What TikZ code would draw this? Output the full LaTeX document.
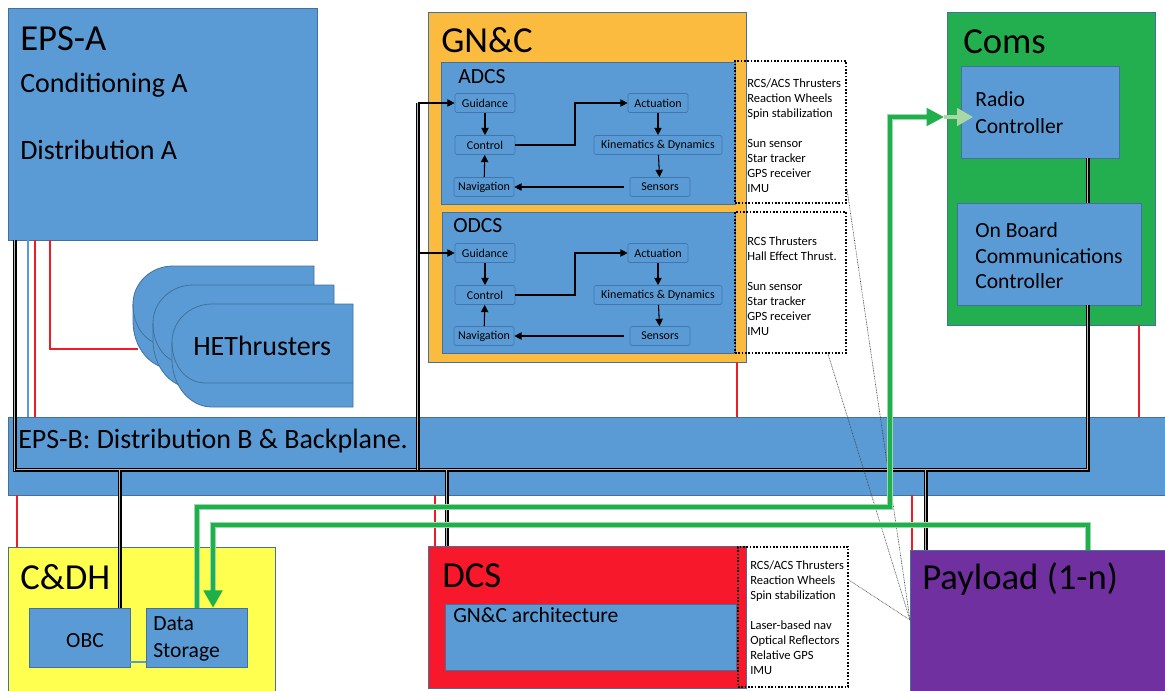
\documentclass[tikz,border=0pt]{standalone}
\usepackage{fontspec}
\setmainfont{Carlito}
\usetikzlibrary{arrows.meta,fit,calc}

\definecolor{boxblue}{HTML}{5B9BD5}
\definecolor{boxedge}{HTML}{41719C}
\definecolor{inedge}{HTML}{3F78B0}
\definecolor{gncorange}{HTML}{FBBB3E}
\definecolor{comsgreen}{HTML}{23AE4F}
\definecolor{cdhyellow}{HTML}{FFFF4F}
\definecolor{dcsred}{HTML}{F7192B}
\definecolor{payloadpurple}{HTML}{7030A0}
\definecolor{pwrred}{HTML}{EE1C24}
\definecolor{datadark}{HTML}{1FAF4B}
\definecolor{datalight}{HTML}{9CD9AC}
\definecolor{arrowlight}{HTML}{A9D8A4}

\tikzset{
  panel/.style={draw=boxedge, line width=0.6pt, inner sep=0pt, fill=#1},
  sbox/.style={draw=inedge, fill=boxblue, rounded corners=1.5pt, line width=0.5pt,
    inner sep=0pt, minimum height=14.25pt, minimum width=45pt,
    font=\fontsize{9}{11}\selectfont},
  flowarr/.style={draw=black, line width=0.8pt, -{Triangle[length=5.5pt,width=5.5pt]}},
  bus/.style={draw=black, line width=0.45pt,
    preaction={draw=black, line width=3.3pt},
    preaction={draw=white!72!black, line width=2.1pt}},
  pwr/.style={draw=pwrred, line width=1.1pt},
  sig/.style={draw=boxblue, line width=1pt},
  datalink/.style={draw=datadark, line width=2.6pt,
    preaction={draw=datalight, line width=4.2pt, -, shorten >=10pt}},
  listbox/.style={draw=black, line width=1.2pt, dash pattern=on 1.2pt off 1.3pt, inner sep=0pt},
  pointer/.style={draw=black!75, line width=0.45pt, dash pattern=on 0.6pt off 0.6pt},
  ttl/.style={anchor=base west, inner sep=0pt, font=\fontsize{27.5}{30}\selectfont},
  subttl/.style={anchor=base west, inner sep=0pt, font=\fontsize{21}{24}\selectfont},
  mtxt/.style={anchor=base west, inner sep=0pt, font=\fontsize{16.2}{19.5}\selectfont},
  ltxt/.style={anchor=north west, inner sep=0pt, align=left, font=\fontsize{9.4}{11.15}\selectfont},
}

% one of the stacked thruster outlines, top-left corner at (#1,#2)
\newcommand{\hetshape}[2]{%
  \filldraw[fill=boxblue, draw=boxedge, line width=0.6pt]
    (#1+181,#2) -- (#1+40,#2) .. controls (#1+18,#2) and (#1,#2+17) .. (#1,#2+38)
    -- (#1,#2+55) .. controls (#1,#2+82) and (#1+18,#2+103) .. (#1+40,#2+103)
    -- (#1+181,#2+103) -- cycle;
  \draw[draw=boxedge, line width=0.6pt]
    (#1,#2+38) .. controls (#1,#2+62) and (#1+14,#2+79) .. (#1+34,#2+79) -- (#1+181,#2+79);
}

\begin{document}
\begin{tikzpicture}[x=0.75pt,y=-0.75pt]
\useasboundingbox (0,0) rectangle (1165,690);
\fill[white] (0,0) rectangle (1165,690);

% ---------------- subsystem panels ----------------
\node[panel=boxblue, fit={(8,8)(317,240)}] (epsa) {};
\node[panel=gncorange, fit={(428,12)(746,362)}] (gnc) {};
\node[panel=boxblue, fit={(441,62)(735,204)}] (adcs) {};
\node[panel=boxblue, fit={(442,212)(735,353)}] (odcs) {};
\node[panel=comsgreen, fit={(947,12)(1155,325)}] (coms) {};
\node[panel=boxblue, fit={(961,66)(1119,158)}] (radio) {};
\node[panel=boxblue, fit={(957,203)(1141,305)}] (obcc) {};
\node[panel=boxblue, fit={(8,417)(1175,495)}] (epsb) {};
\node[panel=cdhyellow, fit={(8,547)(275,700)}] (cdh) {};
\node[panel=boxblue, fit={(29,608)(130,667)}] (obc) {};
\node[panel=boxblue, fit={(146,608)(247,667)}] (dstor) {};
\node[panel=dcsred, fit={(428,546)(746,688)}] (dcs) {};
\node[panel=boxblue, fit={(445,604)(736,670)}] (gnca) {};
\node[panel=payloadpurple, fit={(910,550)(1175,700)}] (payload) {};

% ---------------- power lines ----------------
\coordinate (pA) at (50,349);
\coordinate (hetin) at (138,349);
\draw[pwr] (epsa.south -| pA) -- (pA) -- (hetin);
\coordinate (p1) at (35,0);   \draw[pwr] (epsa.south -| p1) -- (epsb.north -| p1);
\coordinate (p2) at (17,0);   \draw[pwr] (epsb.south -| p2) -- (cdh.north -| p2);
\coordinate (p3) at (737,0);  \draw[pwr] (gnc.south -| p3) -- (epsb.north -| p3);
\coordinate (p4) at (435,0);  \draw[pwr] (epsb.south -| p4) -- (dcs.north -| p4);
\coordinate (p5) at (912,0);  \draw[pwr] (epsb.south -| p5) -- (payload.north -| p5);
\coordinate (p6) at (1139,0); \draw[pwr] (coms.south -| p6) -- (epsb.north -| p6);
\coordinate (b1) at (28,0);   \draw[sig] (epsa.south -| b1) -- (epsb.north -| b1);
\coordinate (b2) at (0,662);  \draw[sig] (obc.east |- b2) -- (dstor.west |- b2);

% ---------------- Hall effect thrusters ----------------
\hetshape{133}{266}
\hetshape{153}{285}
\hetshape{172}{304}
\node[subttl] (tHET) at (193,355) {HEThrusters};

% ---------------- ADCS loop ----------------
\node[sbox] (gd1) at (485,103) {Guidance};
\node[sbox] (ct1) at (485,145) {Control};
\node[sbox] (nv1) at (484,187) {Navigation};
\node[sbox] (ac1) at (658,103) {Actuation};
\node[sbox, minimum width=96pt] (kd1) at (658,145) {Kinematics \& Dynamics};
\node[sbox] (sn1) at (660,187) {Sensors};
\draw[flowarr] (gd1) -- (ct1);
\draw[flowarr] (nv1) -- (ct1);
\draw[flowarr] (ct1.east) -- (575,145) |- (ac1.west);
\draw[flowarr] (ac1) -- (kd1);
\draw[flowarr] (kd1) -- (sn1);
\draw[flowarr] ([xshift=-4pt]sn1.west) -- (nv1.east);

% ---------------- ODCS loop ----------------
\node[sbox] (gd2) at (485,253) {Guidance};
\node[sbox] (ct2) at (485,295) {Control};
\node[sbox] (nv2) at (484,336) {Navigation};
\node[sbox] (ac2) at (658,253) {Actuation};
\node[sbox, minimum width=96pt] (kd2) at (658,295) {Kinematics \& Dynamics};
\node[sbox] (sn2) at (660,336) {Sensors};
\draw[flowarr] (gd2) -- (ct2);
\draw[flowarr] (nv2) -- (ct2);
\draw[flowarr] (ct2.east) -- (575,295) |- (ac2.west);
\draw[flowarr] (ac2) -- (kd2);
\draw[flowarr] (kd2) -- (sn2);
\draw[flowarr] ([xshift=-4pt]sn2.west) -- (nv2.east);

% ---------------- backplane bus ----------------
\coordinate (busL) at (15,470);
\coordinate (busR) at (1088,470);
\draw[bus] (epsa.south -| busL) -- (busL) -- (busR) -- (obcc.south -| busR);
\draw[bus] (radio.south -| busR) -- (obcc.north -| busR);
\coordinate (gbus) at (418,470);
\coordinate (gA) at (418,103);
\coordinate (gO) at (418,253);
\draw[bus] (gbus) -- (gA);
\draw[flowarr] (gA) -- (gd1.west);
\draw[flowarr] (gO) -- (gd2.west);
\coordinate (dOBC) at (120,470); \draw[bus] (dOBC) -- (obc.north -| dOBC);
\coordinate (dDCS) at (447,470); \draw[bus] (dDCS) -- (dcs.north -| dDCS);
\coordinate (dPL) at (926,470);  \draw[bus] (dPL) -- (payload.north -| dPL);

% ---------------- actuator / sensor lists ----------------
\node[listbox, fit={(735,61)(846,203)}] (adcslist) {};
\node[ltxt] (adcstext) at (747,79) {RCS/ACS Thrusters\\Reaction Wheels\\Spin stabilization\\[11.15pt]Sun sensor\\Star tracker\\GPS receiver\\IMU};
\node[listbox, fit={(735,212)(846,353)}] (odcslist) {};
\node[ltxt] (odcstext) at (747,237) {RCS Thrusters\\Hall Effect Thrust.\\[11.15pt]Sun sensor\\Star tracker\\GPS receiver\\IMU};
\node[listbox, fit={(738,547)(848,687)}] (dcslist) {};
\node[ltxt] (dcstext) at (750,561) {RCS/ACS Thrusters\\Reaction Wheels\\Spin stabilization\\[11.15pt]Laser-based nav\\Optical Reflectors\\Relative GPS\\IMU};

\coordinate (pc) at (910,620);
\coordinate (q1) at (828,0);
\coordinate (q2) at (0,580);
\draw[pointer] ([yshift=12pt]adcslist.south east) -- (pc);
\draw[pointer] (odcslist.south -| q1) -- (pc);
\draw[pointer] (dcslist.east |- q2) -- (pc);

% ---------------- data links ----------------
\coordinate (d1) at (197,507);
\coordinate (d2) at (890,507);
\coordinate (d3) at (890,117);
\coordinate (d4) at (944,117);
\coordinate (d5) at (973,117);
\draw[datalink, -{Triangle[length=13pt,width=13pt]}] (dstor.north -| d1) -- (d1) -- (d2) -- (d3) -- (d4);
\draw[draw=arrowlight, line width=2.6pt, -{Triangle[length=12pt,width=13pt]}] (d4) -- (d5);
\coordinate (e1) at (1088,525);
\coordinate (e2) at (213,525);
\draw[datalink, -{Triangle[length=13pt,width=14pt]}] (payload.north -| e1) -- (e1) -- (e2) -- (dstor.north -| e2);

% ---------------- labels ----------------
\node[ttl] (tEPSA) at (20,50) {EPS-A};
\node[subttl] (tCondA) at (20,92) {Conditioning A};
\node[subttl] (tDistA) at (20,159) {Distribution A};
\node[ttl] (tGNC) at (441,52) {GN\&C};
\node[mtxt] (tADCS) at (458,83) {ADCS};
\node[mtxt] (tODCS) at (453,232) {ODCS};
\node[ttl] (tComs) at (963,53) {Coms};
\node[mtxt] (tRadio1) at (975,106) {Radio};
\node[mtxt] (tRadio2) at (975,133) {Controller};
\node[mtxt] (tObcc1) at (975,237) {On Board};
\node[mtxt] (tObcc2) at (975,263) {Communications};
\node[mtxt] (tObcc3) at (975,288) {Controller};
\node[subttl] (tEPSB) at (18,448) {EPS-B: Distribution B \& Backplane.};
\node[ttl] (tCDH) at (20,589) {C\&DH};
\node[mtxt, anchor=base] (tOBC) at (85,647) {OBC};
\node[mtxt] (tData1) at (153,630) {Data};
\node[mtxt] (tData2) at (153,657) {Storage};
\node[ttl] (tDCS) at (442,587) {DCS};
\node[mtxt] (tGNCA) at (453,622) {GN\&C architecture};
\node[ttl] (tPL) at (922,589) {Payload (1-n)};
\end{tikzpicture}
\end{document}
